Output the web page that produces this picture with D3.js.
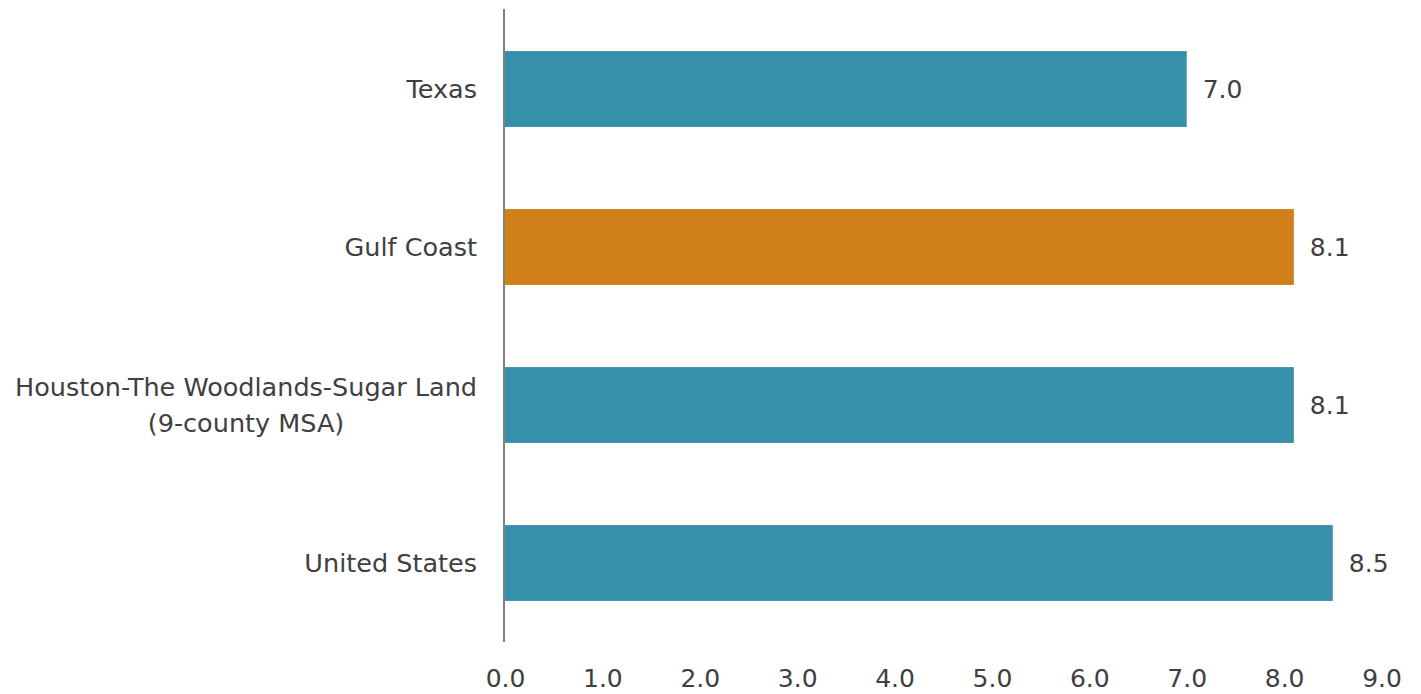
<!DOCTYPE html>
<html>
<head>
<meta charset="utf-8">
<script src="https://cdn.jsdelivr.net/npm/d3@7"></script>
<style>
  body { margin: 0; background: #fff; }
  svg text { font-family: "DejaVu Sans", sans-serif; fill: #404040; }
</style>
</head>
<body>
<div id="chart"></div>
<script>
  // Chart data
  const categories = ['Texas', 'Gulf Coast', 'Houston-The Woodlands-Sugar Land\n(9-county MSA)', 'United States'];
  const values = [7.0, 8.1, 8.1, 8.5];
  const barColors = ['#3790aa', '#d08018', '#3790aa', '#3790aa'];
  const xTicks = [0, 1, 2, 3, 4, 5, 6, 7, 8, 9];

  const width = 1421;
  const height = 694;
  const labelSize = 25.5;
  const numSize = 25;

  const svg = d3.select('#chart')
    .append('svg')
    .attr('width', width)
    .attr('height', height);

  const x = d3.scaleLinear()
    .domain([0, 9])
    .range([505, 1381.5]);

  const y = d3.scaleBand()
    .domain(categories)
    .range([10, 642])
    .paddingInner(0.52)
    .paddingOuter(0.26);

  // Bars
  svg.selectAll('.bar')
    .data(values)
    .enter()
    .append('rect')
    .attr('class', 'bar')
    .attr('x', x(0))
    .attr('y', (d, i) => y(categories[i]))
    .attr('width', d => x(d) - x(0))
    .attr('height', y.bandwidth())
    .attr('fill', (d, i) => barColors[i]);

  // Value labels
  svg.selectAll('.value')
    .data(values)
    .enter()
    .append('text')
    .attr('class', 'value')
    .attr('x', d => x(d) + 16)
    .attr('y', (d, i) => y(categories[i]) + y.bandwidth() / 2)
    .attr('dy', '0.36em')
    .style('font-size', numSize + 'px')
    .text(d => d.toFixed(1));

  // Category labels (multi-line ones are centred within their block)
  categories.forEach(cat => {
    const lines = cat.split('\n');
    const cy = y(cat) + y.bandwidth() / 2;
    const lineH = 36;
    const g = svg.append('g');
    const texts = lines.map((line, j) => g.append('text')
      .attr('y', cy + (j - (lines.length - 1) / 2) * lineH)
      .attr('dy', '0.36em')
      .style('font-size', labelSize + 'px')
      .attr('text-anchor', 'middle')
      .text(line));
    const maxW = d3.max(texts, t => t.node().getComputedTextLength());
    texts.forEach(t => t.attr('x', 477 - maxW / 2));
  });

  // Y axis line
  svg.append('line')
    .attr('x1', x(0) - 1).attr('x2', x(0) - 1)
    .attr('y1', 9).attr('y2', 642)
    .attr('stroke', '#808080')
    .attr('stroke-width', 2);

  // X axis (labels only)
  const xAxis = svg.append('g')
    .attr('transform', 'translate(0,678)')
    .call(d3.axisBottom(x).tickValues(xTicks).tickFormat(d3.format('.1f')).tickSize(0).tickPadding(0));
  xAxis.select('.domain').remove();
  xAxis.selectAll('text')
    .attr('dy', '0.36em')
    .style('font-size', numSize + 'px')
    .style('font-family', '"DejaVu Sans", sans-serif')
    .attr('fill', '#404040');
</script>
</body>
</html>
